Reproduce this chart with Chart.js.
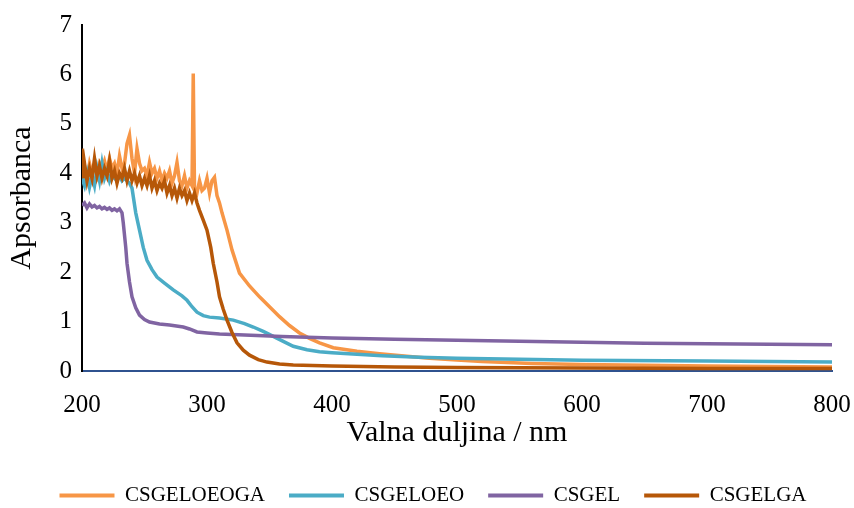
<!DOCTYPE html>
<html>
<head>
<meta charset="utf-8">
<script src="https://cdn.jsdelivr.net/npm/chart.js@4/dist/chart.umd.min.js"></script>
<style>
  html, body { margin: 0; padding: 0; background: #fff; }
  #wrap { width: 854px; height: 508px; }
</style>
</head>
<body>
<div id="wrap"><canvas id="uvChart" width="854" height="508"></canvas></div>
<script>
// CSGELOEOGA
const wlOeoga = [200,202,204,206,208,210,212,214,216,218,220,222,224,226,228,230,232,234,236,238,240,242,244,246,248,250,252,254,256,258,260,262,264,266,268,270,272,274,276,278,280,282,284,286,288,289,290,292,294,296,298,300,302,304,306,308,310,312,316,320,326,334,342,350,358,366,374,382,390,401,420,438,460,478,500,520,560,600,700,800];
const absOeoga = [4.0,4.1,3.9,4.2,4.0,4.1,3.95,4.2,4.1,4.25,4.05,4.3,4.1,4.2,4.0,4.35,4.1,4.2,4.6,4.77,4.3,4.0,4.5,4.2,4.05,4.1,3.95,4.22,4.0,4.1,3.9,4.05,3.85,4.0,3.9,4.05,3.8,3.95,4.22,3.85,3.75,3.95,3.7,3.85,3.75,6.02,3.7,3.6,3.85,3.65,3.7,3.9,3.6,3.85,3.92,3.55,3.4,3.2,2.85,2.45,1.98,1.72,1.5,1.3,1.1,0.92,0.77,0.66,0.57,0.47,0.4,0.35,0.3,0.26,0.22,0.19,0.15,0.13,0.1,0.08];

// CSGELOEO
const wlOeo = [200,202,204,206,208,210,212,214,216,218,220,222,224,226,228,230,232,234,236,238,240,243,246,249,252,256,260,266,273,280,284,288,292,297,302,310,321,330,337,345,353,361,369,380,390,400,420,440,470,500,550,600,700,800];
const absOeo = [3.9,3.75,4.0,3.72,3.95,3.75,4.1,3.85,4.2,3.9,4.05,3.85,4.0,3.9,3.85,3.95,3.85,3.9,3.85,3.8,3.7,3.2,2.85,2.5,2.24,2.05,1.9,1.78,1.64,1.52,1.43,1.3,1.19,1.12,1.09,1.07,1.03,0.96,0.89,0.8,0.7,0.6,0.5,0.43,0.39,0.37,0.34,0.31,0.28,0.26,0.24,0.22,0.2,0.18];

// CSGEL
const wlGel = [200,202,204,206,208,210,212,214,216,218,220,222,224,226,228,230,232,233,235,236,238,240,243,246,250,254,262,270,281,286,292,300,310,330,360,400,450,500,550,600,650,700,750,800];
const absGel = [3.35,3.4,3.3,3.38,3.32,3.35,3.3,3.33,3.28,3.31,3.27,3.3,3.25,3.28,3.24,3.28,3.2,3.0,2.5,2.18,1.8,1.5,1.28,1.13,1.04,0.99,0.95,0.93,0.89,0.85,0.79,0.77,0.75,0.73,0.7,0.67,0.64,0.62,0.6,0.58,0.56,0.55,0.54,0.53];

// CSGELGA
const wlGelga = [200,201,202,204,206,208,210,212,214,216,218,220,222,224,226,228,230,232,234,236,238,240,242,244,246,248,250,252,254,256,258,260,262,264,266,268,270,272,274,276,278,280,282,284,286,288,290,292,294,297,300,303,305,308,310,313,316,320,324,329,334,341,348,358,369,400,450,500,600,700,800];
const absGelga = [4.5,3.9,4.2,3.85,4.1,3.9,4.3,3.95,4.15,3.9,4.1,3.95,4.25,3.9,4.05,3.8,4.0,3.9,4.1,3.85,4.05,3.85,4.0,3.8,3.95,3.75,3.9,3.75,3.95,3.7,3.85,3.65,3.8,3.7,3.85,3.6,3.75,3.55,3.7,3.5,3.7,3.55,3.65,3.45,3.6,3.45,3.6,3.4,3.25,3.05,2.85,2.5,2.18,1.8,1.5,1.25,1.03,0.78,0.57,0.42,0.32,0.23,0.18,0.14,0.12,0.1,0.08,0.07,0.06,0.05,0.05];

const seriesNames = ['CSGELOEOGA', 'CSGELOEO', 'CSGEL', 'CSGELGA'];
const seriesColors = ['#F79646', '#4BACC6', '#8064A2', '#B65708'];
const xTicks = [200, 300, 400, 500, 600, 700, 800];
const yTicks = [0, 1, 2, 3, 4, 5, 6, 7];

function toPoints(xs, ys) {
    return xs.map((x, i) => ({ x: x, y: ys[i] }));
}

const allSeries = [
    toPoints(wlOeoga, absOeoga),
    toPoints(wlOeo, absOeo),
    toPoints(wlGel, absGel),
    toPoints(wlGelga, absGelga)
];

const serif = "'Liberation Serif', 'DejaVu Serif', serif";

const datasets = allSeries.map((pts, i) => ({
    label: seriesNames[i],
    data: pts,
    borderColor: seriesColors[i],
    backgroundColor: seriesColors[i],
    borderWidth: 3.5,
    pointRadius: 0,
    tension: 0,
    order: 4 - i   // later series drawn on top, like the original
}));

new Chart(document.getElementById('uvChart'), {
    type: 'line',
    data: { datasets: datasets },
    options: {
        responsive: false,
        animation: false,
        layout: { padding: { top: 24, right: 22, left: 34, bottom: -8 } },
        plugins: {
            tooltip: { enabled: false },
            legend: {
                position: 'bottom',
                labels: {
                    boxWidth: 55,
                    boxHeight: 4,
                    padding: 24,
                    color: '#000',
                    font: { family: serif, size: 21 },
                    sort: (a, b) => a.datasetIndex - b.datasetIndex,
                    generateLabels: (chart) => chart.data.datasets.map((ds, i) => ({
                        text: ds.label,
                        fillStyle: ds.borderColor,
                        strokeStyle: ds.borderColor,
                        lineWidth: 0,
                        datasetIndex: i
                    }))
                }
            }
        },
        scales: {
            x: {
                type: 'linear',
                min: 200,
                max: 800,
                afterBuildTicks: (scale) => { scale.ticks = xTicks.map(v => ({ value: v })); },
                afterFit: (scale) => {
                    scale.height = 90;
                    scale.paddingRight = 0;
                },
                grid: { display: false, drawTicks: false },
                border: { color: '#2F528F', width: 2 },
                ticks: { color: '#000', padding: 19, font: { family: serif, size: 25 } },
                title: {
                    display: true,
                    text: 'Valna duljina / nm',
                    color: '#000',
                    font: { family: serif, size: 30 },
                    padding: { top: 0, bottom: 10 }
                }
            },
            y: {
                min: 0,
                max: 7,
                afterBuildTicks: (scale) => { scale.ticks = yTicks.map(v => ({ value: v })); },
                afterFit: (scale) => { scale.width = 48; },
                grid: { display: false, drawTicks: false },
                border: { color: '#000', width: 2 },
                ticks: { color: '#000', padding: 10, font: { family: serif, size: 25 } },
                title: {
                    display: true,
                    text: 'Apsorbanca',
                    color: '#000',
                    font: { family: serif, size: 30 },
                    padding: { top: -30, bottom: 0 }
                }
            }
        }
    }
});
</script>
</body>
</html>
